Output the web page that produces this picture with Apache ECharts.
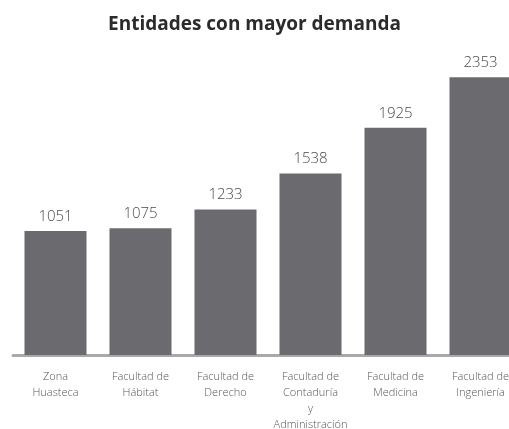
<!DOCTYPE html>
<html>
<head>
<meta charset="utf-8">
<script src="https://cdn.jsdelivr.net/npm/echarts@6/dist/echarts.min.js"></script>
<style>
    html, body { margin: 0; padding: 0; background: #fff; }
    #chart { width: 509px; height: 429px; }
</style>
</head>
<body>
<div id="chart"></div>
<script>
var categories = [
    'Zona\nHuasteca',
    'Facultad de\nHábitat',
    'Facultad de\nDerecho',
    'Facultad de\nContaduría\ny\nAdministración',
    'Facultad de\nMedicina',
    'Facultad de\nIngeniería'
];
var values = [1051, 1075, 1233, 1538, 1925, 2353];

loadChart();

function loadChart() {
    var chart = echarts.init(document.getElementById('chart'));
    var option = {
        animation: false,
        title: {
            text: 'Entidades con mayor demanda',
            left: 'center',
            top: 10,
            textStyle: {
                fontFamily: 'Open Sans',
                fontSize: 19,
                fontWeight: 'bold',
                color: '#2b2b2b'
            }
        },
        grid: {
            left: 13,
            width: 510,
            top: 60,
            bottom: 74,
            outerBoundsMode: 'none',
            containLabel: false
        },
        xAxis: {
            type: 'category',
            data: categories,
            axisLine: { lineStyle: { color: '#a9a9ab', width: 3 } },
            axisTick: { show: false },
            axisLabel: {
                interval: 0,
                margin: 14,
                fontFamily: 'Open Sans',
                fontSize: 11,
                fontWeight: 300,
                lineHeight: 16,
                color: '#555555'
            }
        },
        yAxis: {
            type: 'value',
            min: 0,
            max: 2500,
            show: false,
            splitLine: { show: false }
        },
        series: [{
            type: 'bar',
            data: values,
            barWidth: 62,
            itemStyle: { color: '#6b6b6f' },
            label: {
                show: true,
                position: 'top',
                distance: 7,
                fontFamily: 'Open Sans',
                fontSize: 15,
                fontWeight: 300,
                color: '#4a4a4a'
            }
        }]
    };
    chart.setOption(option);
}
</script>
</body>
</html>
